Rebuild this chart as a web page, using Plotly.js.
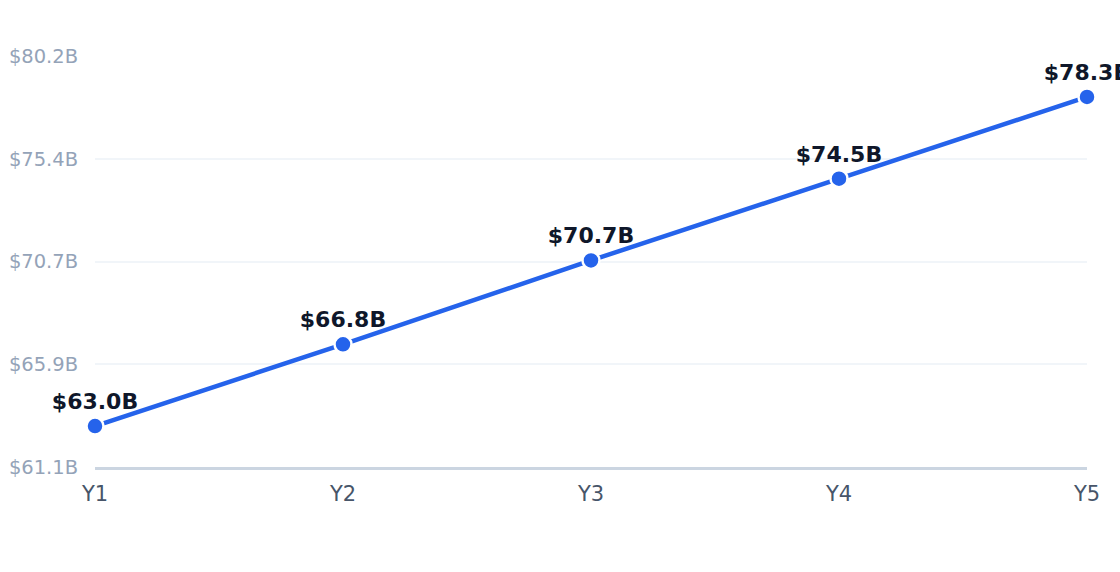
<!DOCTYPE html>
<html><head><meta charset="utf-8">
<script src="https://cdn.plot.ly/plotly-3.0.1.min.js"></script>
<style>html,body{margin:0;padding:0;background:#fff}#c{width:1120px;height:572px}</style>
</head><body><div id="c"></div>
<script>
const categories = ["Y1","Y2","Y3","Y4","Y5"];
const values = [63.0, 66.8, 70.7, 74.5, 78.3];
const tickVals = [61.1, 65.875, 70.65, 75.425, 80.2];
const tickText = ["$61.1B","$65.9B","$70.7B","$75.4B","$80.2B"];
const labels = values.map(v => "$" + v.toFixed(1) + "B");

Plotly.newPlot("c", [{
  x: categories, y: values, text: labels,
  type: "scatter", mode: "lines+markers+text",
  textposition: "top center",
  textfont: {family: "DejaVu Sans", size: 22, color: "#0f172a", weight: "bold"},
  line: {color: "#2563eb", width: 4.5},
  marker: {color: "#2563eb", size: 17, line: {color: "#ffffff", width: 2.5}},
  cliponaxis: false, hoverinfo: "none"
}], {
  width: 1120, height: 572,
  margin: {l: 95, r: 33, t: 56, b: 105},
  paper_bgcolor: "#ffffff", plot_bgcolor: "#ffffff",
  showlegend: false,
  font: {family: "DejaVu Sans"},
  xaxis: {
    type: "category", range: [0, 4], showgrid: false, zeroline: false,
    showline: true, linecolor: "#cbd5e1", linewidth: 2.5,
    ticks: "outside", ticklen: 6, tickcolor: "rgba(0,0,0,0)",
    tickfont: {family: "DejaVu Sans", size: 21, color: "#475569"}
  },
  yaxis: {
    range: [61.1, 80.2], tickvals: tickVals, ticktext: tickText,
    showgrid: true, gridcolor: "#f1f5f9", gridwidth: 2,
    zeroline: false, showline: false,
    ticks: "outside", ticklen: 12, tickcolor: "rgba(0,0,0,0)",
    tickfont: {family: "DejaVu Sans", size: 19.5, color: "#94a3b8"}
  }
}, {displayModeBar: false, staticPlot: true});
</script></body></html>
